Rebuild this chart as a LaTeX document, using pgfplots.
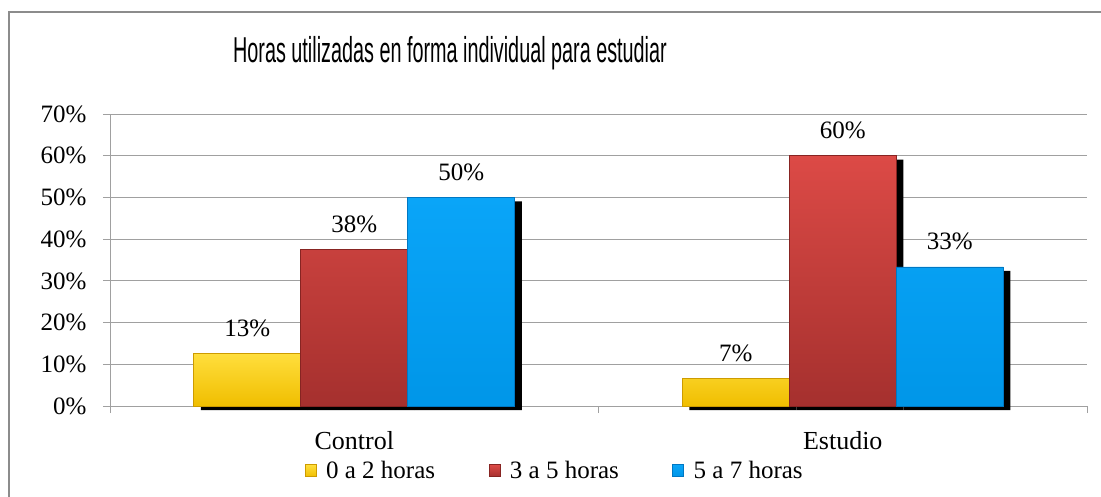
\documentclass[border=0pt]{standalone}
\usepackage{fontspec}
\setmainfont{Liberation Serif}
\newfontfamily\titlefont{Liberation Sans}
\usepackage{graphicx}
\usepackage{pgfplots}
\pgfplotsset{compat=1.18}

\definecolor{gridgray}{RGB}{160,160,160}
\definecolor{framegray}{RGB}{140,140,140}
\definecolor{yeltop}{RGB}{255,222,60}
\definecolor{yelbot}{RGB}{240,190,0}
\definecolor{yeledge}{RGB}{205,155,0}
\definecolor{redtop}{RGB}{220,74,70}
\definecolor{redbot}{RGB}{165,48,46}
\definecolor{rededge}{RGB}{135,36,34}
\definecolor{bluetop}{RGB}{10,165,248}
\definecolor{bluebot}{RGB}{0,150,232}
\definecolor{blueedge}{RGB}{0,120,195}

\begin{document}
\begin{tikzpicture}
\path[use as bounding box] (0pt,0pt) rectangle (1101pt,-497pt);
\draw[framegray, line width=1.2pt] (1101pt,-12pt) -- (9pt,-12pt) -- (9pt,-497pt);
\node[anchor=base, inner sep=0pt] at (450pt,-63pt)
  {\scalebox{0.55}[1]{\titlefont\fontsize{36}{40}\selectfont Horas utilizadas en forma individual para estudiar}};

\begin{axis}[
  at={(110pt,-406pt)}, anchor=south west,
  scale only axis, width=977pt, height=292pt,
  xmin=-0.5, xmax=1.5, ymin=0, ymax=70,
  clip=false,
  ybar, bar width=107pt,
  axis x line*=bottom, axis y line*=left,
  axis line style={-, draw=gridgray, line width=1pt},
  ytick={0,10,...,70},
  yticklabels={0\%,10\%,20\%,30\%,40\%,50\%,60\%,70\%},
  ymajorgrids, grid style={gridgray, line width=1pt},
  xtick={0,1}, xticklabels={Control,Estudio},
  minor xtick={-0.5,0.5,1.5},
  tick align=outside, major tick length=7pt, minor tick length=7pt,
  major x tick style={draw=none},
  minor x tick style={gridgray, line width=1pt},
  y tick style={gridgray, line width=1pt},
  yticklabel style={font=\fontsize{25}{30}\selectfont, xshift=-13pt},
  xticklabel style={font=\fontsize{26}{30}\selectfont, yshift=-15pt},
  point meta=explicit symbolic,
  nodes near coords style={font=\fontsize{25}{30}\selectfont, yshift=13pt},
  legend columns=3,
  legend style={at={(0.455,-0.222)}, anchor=center, draw=none, fill=none,
    font=\fontsize{25}{30}\selectfont,
    nodes={inner ysep=1.5pt, inner xsep=1.5pt},
    /tikz/every odd column/.append style={column sep=8pt},
    /tikz/every even column/.append style={column sep=52pt}},
]
% shadows
\addplot[fill=black, draw=none, bar shift=-107pt, xshift=7pt, yshift=-4pt, forget plot]
  coordinates {(0,12.5) (1,6.67)};
\addplot[fill=black, draw=none, bar shift=0pt, xshift=7pt, yshift=-4pt, forget plot]
  coordinates {(0,37.5) (1,60)};
\addplot[fill=black, draw=none, bar shift=107pt, xshift=7pt, yshift=-4pt, forget plot]
  coordinates {(0,50) (1,33.33)};
% bars
\addplot[top color=yeltop, bottom color=yelbot, draw=yeledge, line width=0.8pt,
  bar shift=-107pt, nodes near coords,
  legend image code/.code={\draw[draw=yeledge, fill=yelbot] (0pt,-6pt) rectangle (11pt,6pt);}]
  coordinates {(0,12.5) [13\%] (1,6.67) [7\%]};
\addlegendentry{0 a 2 horas}
\addplot[top color=redtop, bottom color=redbot, draw=rededge, line width=0.8pt,
  bar shift=0pt, nodes near coords,
  legend image code/.code={\draw[draw=rededge, fill=redbot] (0pt,-6pt) rectangle (11pt,6pt);}]
  coordinates {(0,37.5) [38\%] (1,60) [60\%]};
\addlegendentry{3 a 5 horas}
\addplot[top color=bluetop, bottom color=bluebot, draw=blueedge, line width=0.8pt,
  bar shift=107pt, nodes near coords,
  legend image code/.code={\draw[draw=blueedge, fill=bluetop] (0pt,-6pt) rectangle (11pt,6pt);}]
  coordinates {(0,50) [50\%] (1,33.33) [33\%]};
\addlegendentry{5 a 7 horas}
\end{axis}
\end{tikzpicture}
\end{document}
